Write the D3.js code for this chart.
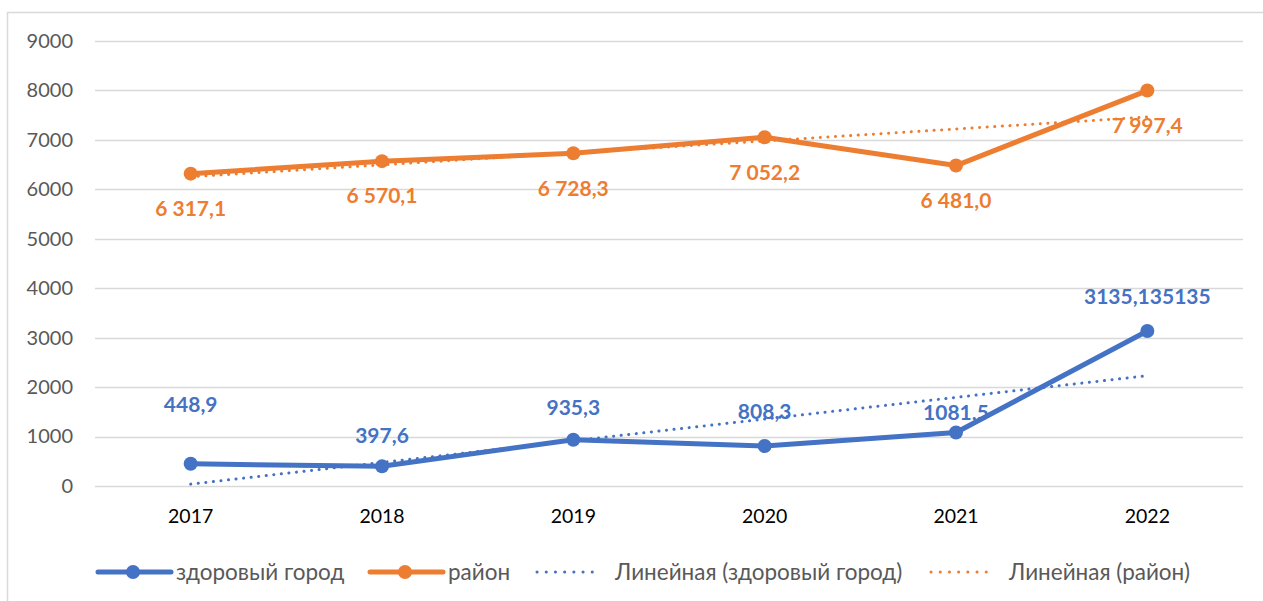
<!DOCTYPE html>
<html>
<head>
<meta charset="utf-8">
<script src="https://cdn.jsdelivr.net/npm/d3@7"></script>
<style>
  body { margin: 0; background: #fff; }
  svg { font-family: Lato, "Noto Sans", sans-serif; }
</style>
</head>
<body>
<svg id="chart" width="1263" height="601"></svg>
<script>
const years = ["2017", "2018", "2019", "2020", "2021", "2022"];
const city = [448.9, 397.6, 935.3, 808.3, 1081.5, 3135.135135];
const district = [6317.1, 6570.1, 6728.3, 7052.2, 6481.0, 7997.4];
const cityLabels = ["448,9", "397,6", "935,3", "808,3", "1081,5", "3135,135135"];
const districtLabels = ["6 317,1", "6 570,1", "6 728,3", "7 052,2", "6 481,0", "7 997,4"];
// linear trend end values (first and last year)
const cityTrend = [38, 2231];
const districtTrend = [6254, 7462];
const yTicks = [0, 1000, 2000, 3000, 4000, 5000, 6000, 7000, 8000, 9000];
const legendNames = ["здоровый город", "район", "Линейная (здоровый город)", "Линейная (район)"];

const blue = "#4472C4", orange = "#ED7D31";
const svg = d3.select("#chart");

// outer frame
svg.append("rect")
  .attr("x", 7.5).attr("y", 12.5)
  .attr("width", 1300).attr("height", 700)
  .attr("fill", "none").attr("stroke", "#d9d9d9").attr("stroke-width", 1.5);

const x = d3.scaleBand().domain(years).range([95, 1243]);
const y = d3.scaleLinear().domain([0, 9000]).range([486, 41]);
const cx = d => x(d) + x.bandwidth() / 2;

// gridlines
svg.append("g").selectAll("line").data(yTicks).join("line")
  .attr("x1", 95).attr("x2", 1243)
  .attr("y1", d => Math.round(y(d)) + 0.5).attr("y2", d => Math.round(y(d)) + 0.5)
  .attr("stroke", "#d9d9d9").attr("stroke-width", 1.5);

// y axis labels
const yAxis = svg.append("g").attr("transform", "translate(73,0)")
  .call(d3.axisLeft(y).tickValues(yTicks).tickFormat(d3.format("d")).tickSize(0).tickPadding(0));
yAxis.select(".domain").remove();
yAxis.selectAll("text").attr("fill", "#595959").style("font-size", "20px")
  .style("font-family", "Lato, sans-serif");

// x axis labels
const xAxis = svg.append("g").attr("transform", "translate(0,508)")
  .call(d3.axisBottom(x).tickSize(0).tickPadding(0));
xAxis.select(".domain").remove();
xAxis.selectAll("text").attr("fill", "#000").attr("dy", "0.75em").style("font-size", "19.5px")
  .style("font-family", "Lato, sans-serif");

const line = d3.line().x((d, i) => cx(years[i])).y(d => y(d));

// trend lines
const trendYears = [years[0], years[years.length - 1]];
[[cityTrend, blue], [districtTrend, orange]].forEach(([t, c]) => {
  svg.append("path")
    .datum(t)
    .attr("d", d3.line().x((d, i) => cx(trendYears[i])).y(d => y(d)))
    .attr("fill", "none").attr("stroke", c).attr("stroke-width", 3)
    .attr("stroke-linecap", "round").attr("stroke-dasharray", "0.1 7.5");
});

// series
[[city, blue], [district, orange]].forEach(([s, c]) => {
  svg.append("path").datum(s).attr("d", line)
    .attr("fill", "none").attr("stroke", c).attr("stroke-width", 5)
    .attr("stroke-linejoin", "round");
  svg.append("g").selectAll("circle").data(s).join("circle")
    .attr("cx", (d, i) => cx(years[i])).attr("cy", d => y(d)).attr("r", 7)
    .attr("fill", c);
});

// data labels
const cityDy = [-59, -31, -32, -34, -20, -34];
svg.append("g").selectAll("text").data(city).join("text")
  .attr("x", (d, i) => cx(years[i]))
  .attr("y", (d, i) => y(d) + cityDy[i])
  .attr("dy", "0.35em").attr("text-anchor", "middle")
  .attr("fill", blue).style("font-weight", "bold").style("font-size", "21px")
  .text((d, i) => cityLabels[i]);

svg.append("g").selectAll("text").data(district).join("text")
  .attr("x", (d, i) => cx(years[i]))
  .attr("y", d => y(d) + 35)
  .attr("dy", "0.35em").attr("text-anchor", "middle")
  .attr("fill", orange).style("font-weight", "bold").style("font-size", "21px")
  .text((d, i) => districtLabels[i]);

// legend
const legendX = [98, 370, 537, 931];
const legendY = 572;
const lg = svg.append("g");
legendNames.forEach((name, i) => {
  const c = i % 2 === 0 ? blue : orange;
  const gx = legendX[i];
  if (i < 2) {
    lg.append("line").attr("x1", gx).attr("x2", gx + 73)
      .attr("y1", legendY).attr("y2", legendY)
      .attr("stroke", c).attr("stroke-width", 5).attr("stroke-linecap", "round");
    lg.append("circle").attr("cx", gx + 35).attr("cy", legendY).attr("r", 7).attr("fill", c);
    lg.append("text").attr("x", gx + 78).attr("y", legendY).attr("dy", "0.35em")
      .attr("fill", "#595959").style("font-size", "22.5px").text(name);
  } else {
    lg.append("line").attr("x1", gx).attr("x2", gx + 64)
      .attr("y1", legendY).attr("y2", legendY)
      .attr("stroke", c).attr("stroke-width", 3).attr("stroke-linecap", "round")
      .attr("stroke-dasharray", "0.1 9.1");
    lg.append("text").attr("x", gx + 78).attr("y", legendY).attr("dy", "0.35em")
      .attr("fill", "#595959").style("font-size", "22.5px").text(name);
  }
});
</script>
</body>
</html>
